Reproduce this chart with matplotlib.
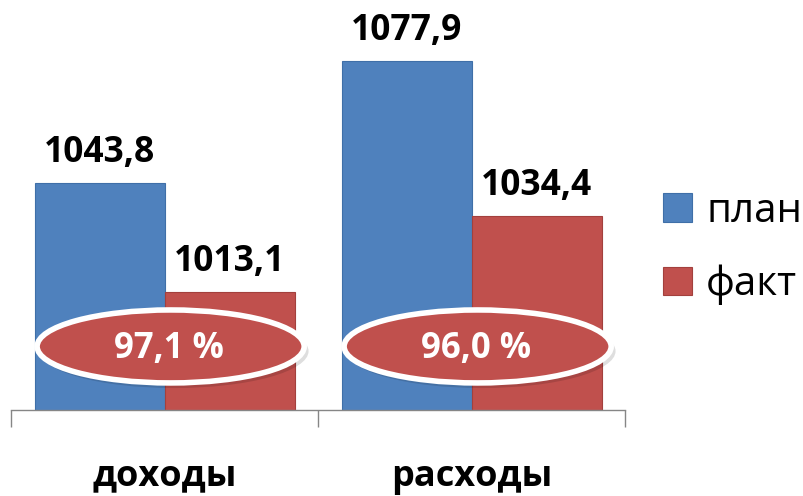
import numpy as np
import matplotlib
matplotlib.use('Agg')
import matplotlib.pyplot as plt
from matplotlib.patches import Ellipse
from matplotlib.transforms import ScaledTranslation

plt.rcParams['font.family'] = ['Open Sans', 'DejaVu Sans']

# data
categories = ['доходы', 'расходы']
plan = [1043.8, 1077.9]
fact = [1013.1, 1034.4]
series_names = ['план', 'факт']
percents = ['97,1 %', '96,0 %']

blue = '#4F81BD'
red = '#C0504D'

fig = plt.figure(figsize=(8.04, 4.96), dpi=100)
ax = fig.add_axes([11 / 804, 86 / 496, 614 / 804, 410 / 496])

x = np.arange(len(categories))
w = 130 / 307

b1 = ax.bar(x - w / 2, plan, w, bottom=0, color=blue, edgecolor='#3F6FA8', linewidth=0.8, label=series_names[0])
b2 = ax.bar(x + w / 2, fact, w, bottom=0, color=red, edgecolor='#A3403D', linewidth=0.8, label=series_names[1])

ax.set_xlim(-0.5, len(categories) - 0.5)
ax.set_ylim(980, 1095)

# value labels above bars
for bars, vals in [(b1, plan), (b2, fact)]:
    for rect, v in zip(bars, vals):
        ax.annotate(f'{v:.1f}'.replace('.', ','),
                    xy=(rect.get_x() + rect.get_width() / 2, v),
                    xytext=(0, 15), textcoords='offset points',
                    ha='center', va='baseline', fontsize=25.5, fontweight='bold')

# execution percent in ellipses
trans = ax.get_xaxis_transform()
for i, p in enumerate(percents):
    sh = Ellipse((x[i] + 0.025, 0.152), 0.875, 0.18, facecolor='#000000', alpha=0.13,
                 edgecolor='none', zorder=3)
    sh.set_transform(trans + ScaledTranslation(1.5 / 72, -2.5 / 72, fig.dpi_scale_trans))
    ax.add_patch(sh)
    e = Ellipse((x[i] + 0.02, 0.155), 0.87, 0.178, transform=trans,
                facecolor=red, edgecolor='white', linewidth=4, zorder=4)
    ax.add_patch(e)
    ax.text(x[i] + 0.015, 0.128, p, transform=trans, ha='center', va='baseline',
            color='white', fontsize=25, fontweight='bold', zorder=5)

# axes styling
for s in ['top', 'right', 'left']:
    ax.spines[s].set_visible(False)
ax.spines['bottom'].set_color('#868686')
ax.spines['bottom'].set_linewidth(1.0)
ax.set_yticks([])
ax.set_xticks(x)
ax.set_xticklabels(categories, fontsize=26, fontweight='bold')
ax.tick_params(axis='x', which='major', length=0, pad=35)
ax.set_xticks(np.arange(len(categories) + 1) - 0.5, minor=True)
ax.tick_params(axis='x', which='minor', length=12, color='#868686', width=1.0)

leg = ax.legend(loc='upper left', bbox_to_anchor=(663 / 804, 305 / 496), bbox_transform=fig.transFigure,
                frameon=False, fontsize=29, handlelength=0.72, handleheight=0.72,
                handletextpad=0.35, labelspacing=0.82, borderaxespad=0, borderpad=0)

fig.savefig('out.png', dpi=100)
